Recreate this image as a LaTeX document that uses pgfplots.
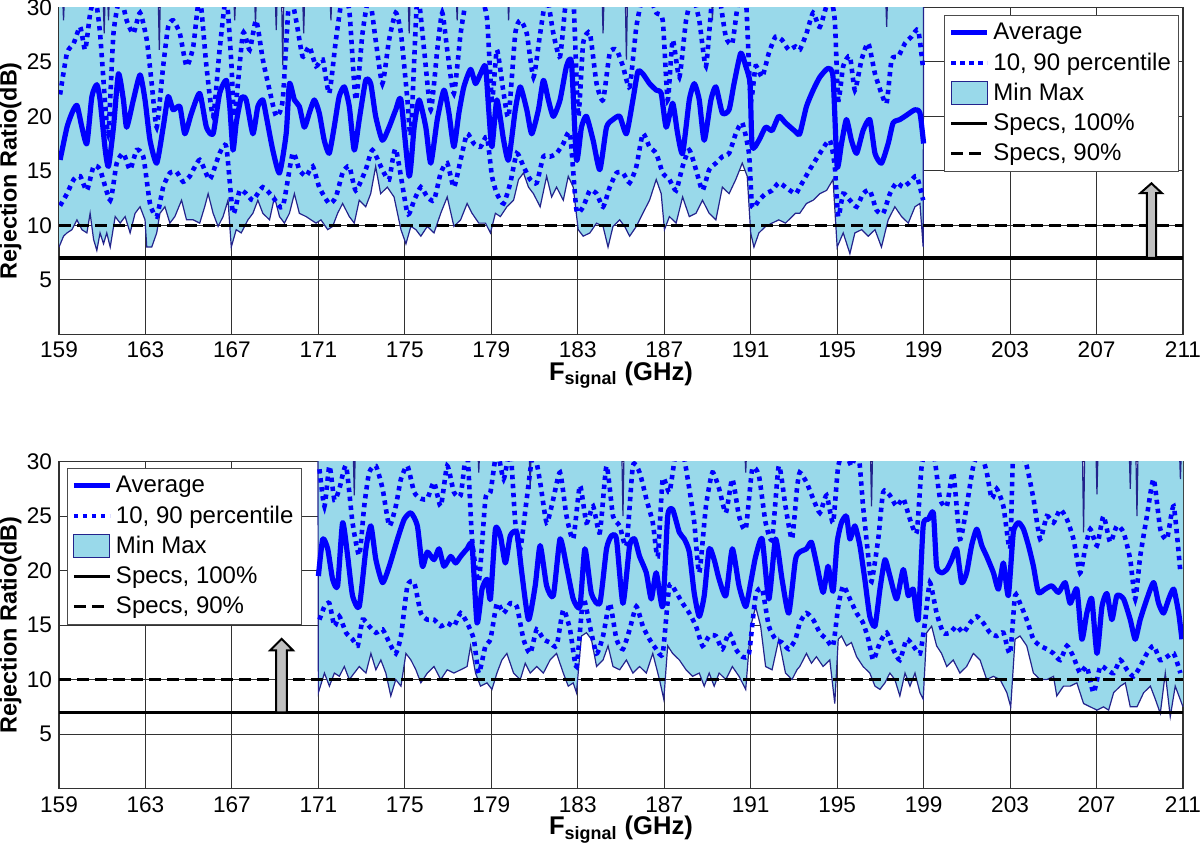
\documentclass[border=0pt]{standalone}
\usepackage{fontspec}
\setmainfont{Liberation Sans}
\usepackage{pgfplots}
\pgfplotsset{compat=1.18}
\usepackage{pgfplotstable}
\usepgfplotslibrary{fillbetween}
\definecolor{mmfill}{RGB}{153,217,234}
\definecolor{mmedge}{RGB}{35,35,140}
\definecolor{avgblue}{RGB}{0,0,255}
\definecolor{gridc}{RGB}{50,50,50}
\definecolor{arrowgray}{RGB}{192,192,192}

% ---------------- TOP PANEL DATA ----------------
\pgfplotstableread{
x y
159.05 16.0
159.37 19.0
159.60 20.3
159.83 21.0
160.06 19.0
160.29 17.5
160.52 21.8
160.75 22.9
160.90 21.5
161.14 16.9
161.29 15.4
161.52 19.0
161.75 23.9
161.98 21.5
162.13 19.0
162.44 21.5
162.75 23.8
162.98 21.5
163.21 17.8
163.52 15.7
163.82 19.0
164.05 21.8
164.28 20.6
164.59 20.9
164.82 18.4
165.13 20.3
165.51 22.1
165.82 19.0
166.13 18.4
166.43 22.1
166.74 23.3
166.90 20.9
167.05 16.9
167.20 19.4
167.43 21.7
167.66 21.5
167.97 18.4
168.20 20.9
168.43 21.5
168.59 20.0
168.89 16.9
169.20 14.8
169.51 18.4
169.66 23.0
169.89 21.5
170.12 20.9
170.35 19.0
170.58 20.3
170.81 21.5
171.04 20.3
171.27 17.8
171.50 16.6
171.73 19.0
171.96 21.8
172.20 22.7
172.43 20.9
172.66 16.9
172.89 19.7
173.19 23.3
173.42 23.0
173.65 20.0
173.96 17.8
174.27 19.0
174.58 20.6
174.82 21.5
175.20 14.5
175.43 19.0
175.66 21.5
175.97 19.0
176.20 15.7
176.50 19.7
176.81 22.4
177.04 20.3
177.27 17.2
177.50 20.3
177.73 22.7
178.04 24.3
178.27 23.0
178.50 23.9
178.73 24.6
178.88 20.6
179.03 17.2
179.26 21.5
179.57 17.8
179.80 16.0
180.11 20.6
180.34 22.7
180.64 20.6
180.87 18.4
181.18 20.6
181.41 23.3
181.64 21.5
181.87 20.0
182.18 21.5
182.48 24.6
182.71 24.9
182.94 16.0
183.17 19.0
183.40 20.0
183.71 17.8
184.02 15.1
184.33 19.0
184.63 19.7
184.94 20.0
185.25 18.4
185.55 21.5
185.78 24.1
186.01 23.9
186.32 23.0
186.63 22.4
186.86 22.1
187.09 19.0
187.39 21.2
187.62 18.4
187.85 16.6
188.16 21.5
188.39 23.0
188.62 21.5
188.85 17.8
189.16 21.5
189.39 22.7
189.69 20.3
190.00 20.6
190.23 23.0
190.54 25.8
190.77 24.6
190.97 23.0
191.07 17.2
191.38 17.8
191.69 19.0
191.99 18.7
192.30 20.0
192.61 19.4
193.07 18.6
193.27 18.4
193.58 20.9
193.89 22.4
194.20 23.6
194.58 24.4
194.81 23.6
195.00 15.4
195.20 17.5
195.43 19.7
195.66 17.8
195.90 16.6
196.20 18.7
196.51 19.7
196.75 16.6
197.05 15.7
197.36 17.5
197.59 19.4
197.90 19.7
198.21 20.1
198.60 20.6
198.83 20.3
199.00 17.5
}\topavg

\pgfplotstableread{
x y
159.05 22.0
159.37 25.8
159.68 26.7
159.98 28.2
160.21 26.1
160.44 29.4
160.67 31
160.90 27.6
161.14 21.0
161.29 18.5
161.52 27.6
161.83 31
162.13 28.8
162.44 27.6
162.75 29.5
163.06 27.0
163.29 23.0
163.52 19.0
163.82 24.6
164.05 28.2
164.28 28.8
164.59 27.6
164.90 24.6
165.21 26.4
165.51 31
165.82 24.6
166.13 20.0
166.43 26.1
166.74 31
166.97 25.0
167.12 20.0
167.51 27.6
167.82 26.1
168.12 28.8
168.43 25.2
168.74 22.4
169.05 20.0
169.35 21.5
169.66 31
169.97 28.8
170.27 25.5
170.58 26.4
170.89 24.6
171.20 25.2
171.50 22.1
171.81 27.0
172.12 31
172.43 29.7
172.73 21.5
173.04 27.6
173.35 31
173.65 27.0
173.96 23.0
174.27 27.0
174.58 29.5
174.82 27.6
175.12 21.5
175.28 18.4
175.58 31
175.89 26.1
176.20 20.6
176.50 26.1
176.73 29.5
176.96 26.1
177.27 22.1
177.58 27.6
177.88 31
178.19 31
178.50 31
178.80 29.0
179.03 21.5
179.26 26.1
179.57 22.1
179.80 20.0
180.11 27.6
180.34 28.8
180.64 27.6
180.95 23.6
181.26 27.6
181.56 31
181.87 27.6
182.18 25.5
182.48 31
182.79 31
183.02 20.0
183.25 26.7
183.56 27.6
183.87 23.0
184.17 21.5
184.48 25.8
184.79 26.1
185.09 24.6
185.40 22.7
185.71 28.2
186.01 31
186.32 31
186.63 29.5
186.93 28.8
187.16 21.5
187.39 27.0
187.70 23.6
188.01 28.8
188.31 31
188.62 28.8
188.93 24.6
189.23 31
189.54 31
189.85 27.3
190.15 26.7
190.46 31
190.77 31
191.00 21.5
191.23 24.6
191.53 23.6
191.84 25.8
192.15 27.3
192.45 27.0
192.76 26.1
193.07 26.4
193.27 26.1
193.58 27.6
193.89 29.5
194.20 28.2
194.66 31
194.89 28.8
195.05 21.5
195.28 24.6
195.59 25.5
195.82 22.4
196.13 25.2
196.44 26.7
196.75 23.9
197.05 22.1
197.29 21.2
197.52 25.2
197.83 25.5
198.14 26.7
198.44 27.3
198.75 27.9
198.98 24.3
}\topnin

\pgfplotstableread{
x y
159.05 11.8
159.37 12.9
159.68 14.2
159.98 14.5
160.29 13.2
160.60 15.4
160.90 15.1
161.37 12.3
161.67 15.7
161.98 16.6
162.29 15.1
162.59 16.9
162.90 16.3
163.21 12.0
163.52 10.8
163.82 13.5
164.13 14.8
164.44 14.9
164.74 14.0
165.05 14.5
165.51 16.0
165.97 14.2
166.43 16.6
166.74 17.2
167.05 11.1
167.36 13.2
167.66 12.9
167.97 12.3
168.43 13.5
168.89 12.6
169.35 11.7
169.81 16.6
170.12 15.1
170.43 14.5
170.74 15.4
171.04 13.5
171.50 12.0
171.81 12.6
172.12 14.8
172.43 15.4
172.73 13.2
173.19 15.1
173.50 16.9
173.96 15.1
174.27 14.2
174.58 17.0
175.12 11.1
175.43 12.3
175.74 13.5
176.04 12.6
176.35 12.3
176.66 14.8
176.96 15.7
177.27 13.5
177.58 16.0
177.88 18.4
178.19 17.5
178.50 17.2
178.80 18.1
179.03 14.5
179.26 12.9
179.57 12.0
179.88 13.9
180.18 16.6
180.49 15.4
180.80 14.2
181.10 13.9
181.41 16.3
181.72 16.3
182.02 16.6
182.33 17.5
182.64 18.4
182.94 11.4
183.25 11.7
183.56 13.2
183.87 12.9
184.17 11.7
184.48 13.5
184.79 14.8
185.09 14.8
185.40 13.9
185.71 15.4
186.01 18.4
186.32 17.2
186.63 16.6
186.93 14.8
187.24 14.2
187.55 13.2
187.85 15.4
188.16 16.9
188.47 15.1
188.77 13.2
189.08 15.1
189.39 15.7
189.69 16.3
190.00 16.6
190.31 18.4
190.61 19.4
190.92 16.6
191.07 11.7
191.38 12.3
191.69 12.9
191.99 13.2
192.30 13.9
192.61 13.5
193.07 12.9
193.27 13.5
193.73 15.1
194.20 16.6
194.66 17.8
194.89 15.4
195.05 10.8
195.28 12.9
195.59 12.3
195.90 11.7
196.20 12.9
196.51 13.2
196.82 11.4
197.13 11.1
197.44 12.9
197.75 13.9
198.06 13.5
198.37 14.0
198.68 14.5
198.98 12.3
}\topten

\pgfplotstableread{
x y
159.00 8.0
159.21 9.0
159.37 9.3
159.60 9.6
159.83 10.5
160.06 9.6
160.29 9.3
160.44 11.1
160.60 8.7
160.75 7.7
160.90 9.3
161.06 8.3
161.21 9.3
161.37 8.0
161.60 10.8
161.83 10.2
162.06 10.8
162.29 9.3
162.52 11.1
162.75 11.7
162.98 10.5
163.06 8.0
163.29 8.0
163.52 9.3
163.67 11.1
163.90 11.7
164.13 10.2
164.36 10.8
164.67 12.3
164.90 10.5
165.21 10.5
165.51 10.2
165.74 11.7
165.90 12.9
166.13 11.1
166.36 9.9
166.59 10.8
166.82 12.3
166.97 8.0
167.20 9.6
167.43 9.3
167.74 10.5
167.97 11.1
168.20 12.3
168.43 11.1
168.74 10.5
168.97 12.6
169.20 10.8
169.43 10.2
169.66 11.1
169.89 12.9
170.12 11.1
170.43 10.8
170.66 10.5
170.89 10.2
171.12 10.5
171.43 9.6
171.66 9.9
171.89 11.1
172.12 12.0
172.43 10.8
172.66 10.2
172.89 12.3
173.19 11.7
173.42 12.9
173.65 15.4
173.88 12.9
174.19 13.5
174.50 12.6
174.82 9.6
175.05 8.3
175.28 9.9
175.51 9.6
175.74 9.0
176.04 9.9
176.35 9.3
176.66 11.1
176.96 12.6
177.27 9.9
177.58 10.5
177.88 12.0
178.11 11.1
178.42 10.2
178.73 10.2
178.96 9.3
179.19 11.1
179.42 10.8
179.72 11.7
180.03 12.3
180.26 14.2
180.49 14.8
180.72 13.5
180.95 12.9
181.26 11.7
181.56 14.5
181.79 12.6
182.02 13.5
182.33 12.3
182.56 14.5
182.79 13.5
183.02 9.6
183.25 9.0
183.56 9.3
183.87 10.2
184.17 9.9
184.40 8.0
184.63 9.9
184.94 10.5
185.17 9.9
185.40 9.0
185.71 9.9
186.01 11.1
186.32 12.3
186.63 14.2
186.86 12.9
187.01 9.6
187.24 10.8
187.55 10.2
187.85 12.6
188.16 10.8
188.47 11.1
188.77 12.3
189.08 11.1
189.39 10.5
189.69 13.5
190.00 12.9
190.31 14.2
190.61 15.7
190.84 14.5
191.00 9.3
191.15 8.0
191.38 9.3
191.69 9.9
191.99 10.2
192.30 10.5
192.61 10.2
193.07 11.1
193.27 11.1
193.58 12.0
193.89 12.3
194.20 12.9
194.51 13.2
194.81 14.2
195.00 8.0
195.28 9.3
195.59 7.4
195.82 9.3
196.13 9.6
196.44 9.0
196.75 9.6
197.05 8.0
197.36 10.5
197.67 11.7
197.98 10.8
198.29 10.2
198.60 11.7
198.83 12.0
198.98 8.0
199.00 32
}\topmin

\pgfplotstableread{
x y
159.00 32
159.15 32
159.21 28.8
159.27 32
161.03 32
161.09 27.6
161.15 32
161.23 32
161.29 28.8
161.35 32
163.58 32
163.64 26.1
163.70 32
167.07 32
167.13 28.8
167.19 32
168.03 32
168.09 28.5
168.15 32
168.99 32
169.05 27.9
169.11 32
169.29 32
169.35 24.7
169.41 32
170.26 32
170.32 27.6
170.38 32
171.52 32
171.58 28.8
171.64 32
175.14 32
175.20 27.6
175.26 32
177.36 32
177.42 28.8
177.48 32
179.74 32
179.80 28.8
179.86 32
184.11 32
184.17 27.6
184.23 32
185.19 32
185.25 25.2
185.31 32
189.17 32
189.23 28.8
189.29 32
197.23 32
197.29 28.2
197.35 32
199.00 32
}\topmax

% ---------------- BOTTOM PANEL DATA ----------------
\pgfplotstableread{
x y
171.00 19.5
171.20 22.9
171.43 22.0
171.66 19.2
171.89 18.6
172.12 24.4
172.35 21.4
172.58 17.7
172.89 16.7
173.20 22.0
173.43 24.1
173.66 21.0
173.97 18.9
174.28 20.4
174.66 22.9
174.97 24.7
175.28 25.3
175.58 24.1
175.81 20.4
176.04 21.7
176.35 21.0
176.58 22.0
176.81 20.4
177.12 21.3
177.35 20.7
177.58 21.3
177.88 22.0
178.11 22.3
178.34 15.2
178.57 18.3
178.80 19.2
178.96 17.4
179.19 23.8
179.42 23.2
179.65 20.7
179.88 23.2
180.18 23.5
180.41 19.8
180.72 15.5
181.03 18.6
181.26 22.3
181.56 18.6
181.87 17.7
182.18 22.9
182.48 20.4
182.79 17.4
183.10 16.7
183.33 22.0
183.63 17.9
184.02 17.0
184.33 22.0
184.56 23.2
184.79 22.9
185.09 17.0
185.40 22.3
185.63 22.9
185.86 21.3
186.17 19.8
186.40 17.4
186.63 19.8
186.93 16.7
187.16 25.0
187.39 25.6
187.70 23.5
187.93 22.9
188.16 21.7
188.39 17.9
188.62 15.8
188.85 17.7
189.08 22.0
189.31 21.0
189.54 19.2
189.85 17.7
190.15 22.0
190.46 18.6
190.77 16.7
191.00 18.9
191.23 21.3
191.53 22.9
191.84 17.4
192.15 22.9
192.45 19.2
192.76 16.1
193.07 21.0
193.27 21.7
193.58 22.0
193.81 22.6
194.04 20.7
194.35 18.0
194.58 20.4
194.81 18.1
195.00 22.6
195.20 24.4
195.43 25.0
195.59 22.9
195.82 24.1
196.05 22.3
196.28 19.2
196.51 15.8
196.75 14.9
196.98 18.3
197.21 21.0
197.44 19.5
197.75 17.4
198.06 20.1
198.29 17.7
198.52 18.3
198.75 15.5
198.98 24.1
199.22 24.7
199.45 25.3
199.60 20.4
199.83 19.8
200.07 20.1
200.30 21.0
200.53 22.0
200.76 18.9
200.99 19.8
201.22 22.3
201.46 23.8
201.69 22.3
201.92 21.3
202.23 19.8
202.46 18.3
202.69 20.7
202.92 17.7
203.15 23.5
203.39 24.4
203.62 23.8
203.85 22.3
204.08 20.4
204.31 18.0
204.62 18.3
204.93 18.6
205.24 18.0
205.55 18.9
205.78 17.0
206.09 18.3
206.32 13.7
206.55 16.1
206.78 17.4
207.02 12.4
207.25 16.7
207.48 17.9
207.71 15.5
207.94 17.7
208.25 17.4
208.56 15.5
208.79 13.7
209.02 15.5
209.33 17.4
209.64 18.9
209.87 17.0
210.10 16.1
210.34 17.4
210.57 18.3
210.80 16.1
210.95 13.7
}\botavg

\pgfplotstableread{
x y
171.05 29.3
171.28 25.9
171.51 29.6
171.74 26.5
171.97 27.5
172.28 29.6
172.58 24.4
172.89 21.4
173.12 25.9
173.35 29.0
173.66 29.6
173.97 27.5
174.28 24.1
174.58 25.9
174.82 28.4
175.12 29.6
175.43 27.2
175.74 26.6
176.04 26.6
176.35 28.1
176.66 25.9
176.96 29.6
177.27 27.2
177.58 26.9
177.88 31
178.11 22.9
178.42 19.0
178.73 26.6
178.96 27.2
179.26 31
179.57 28.4
179.88 31
180.11 24.4
180.34 22.0
180.64 26.6
180.95 31
181.26 28.1
181.56 24.4
181.87 26.6
182.18 29.0
182.48 25.0
182.79 22.9
183.10 27.8
183.40 24.4
183.71 25.9
184.02 23.5
184.33 29.6
184.63 25.0
184.94 24.1
185.25 22.3
185.55 29.6
185.86 29.0
186.17 26.6
186.47 24.4
186.70 21.3
186.93 28.4
187.24 27.2
187.55 31
187.85 31
188.16 27.5
188.39 24.4
188.62 19.8
188.93 25.9
189.23 29.0
189.54 27.5
189.85 25.3
190.15 28.4
190.46 25.0
190.77 23.8
191.07 29.3
191.38 28.7
191.69 24.4
191.99 22.9
192.30 29.6
192.61 25.9
192.91 22.9
193.14 27.5
193.27 29.0
193.58 28.1
193.89 26.6
194.20 25.3
194.51 26.9
194.81 24.4
195.05 29.6
195.36 31
195.66 29.6
195.97 31
196.20 25.9
196.44 21.3
196.59 19.0
196.90 22.9
197.13 27.2
197.44 26.9
197.75 25.9
198.06 26.6
198.37 24.7
198.68 23.5
198.91 29.6
199.14 31
199.45 31
199.76 26.6
200.07 25.9
200.37 29.0
200.68 22.9
200.99 25.9
201.30 29.6
201.61 31
201.92 29.0
202.15 26.6
202.38 27.5
202.69 25.9
203.00 22.0
203.15 31
203.46 31
203.77 29.6
204.08 26.6
204.39 22.9
204.70 25.0
205.01 24.4
205.32 25.6
205.63 24.7
205.93 22.9
206.24 19.8
206.47 22.0
206.71 23.8
207.02 22.3
207.32 25.0
207.63 22.6
207.94 24.1
208.25 23.5
208.56 21.0
208.79 17.4
209.02 21.3
209.33 25.0
209.64 28.4
209.95 23.8
210.26 22.9
210.57 25.9
210.88 19.8
}\botnin

\pgfplotstableread{
x y
171.05 15.5
171.28 16.7
171.51 17.0
171.74 14.9
171.97 15.8
172.28 14.3
172.58 13.7
172.82 13.1
173.05 15.5
173.35 14.9
173.66 14.3
173.97 14.6
174.28 13.4
174.58 12.4
174.82 14.0
175.12 18.6
175.43 18.9
175.74 16.1
176.04 15.5
176.35 15.5
176.66 14.9
176.96 15.2
177.27 14.9
177.58 16.1
177.88 15.2
178.19 13.7
178.42 10.6
178.73 13.1
178.96 13.7
179.26 17.0
179.57 16.1
179.88 17.0
180.18 16.7
180.49 13.7
180.80 12.4
181.10 14.6
181.41 13.7
181.72 13.4
182.02 13.1
182.33 16.4
182.64 14.6
182.94 11.2
183.25 17.4
183.56 14.9
183.87 12.4
184.17 14.0
184.48 17.0
184.79 13.7
185.09 12.8
185.40 14.6
185.71 16.7
186.01 14.9
186.32 13.7
186.63 12.8
186.93 12.4
187.24 18.6
187.55 18.0
187.85 17.0
188.16 16.1
188.47 14.9
188.77 13.1
189.08 14.0
189.39 14.0
189.69 12.8
190.00 14.3
190.31 12.8
190.61 12.1
190.92 12.4
191.23 17.7
191.53 18.3
191.84 14.9
192.15 13.7
192.45 13.4
192.76 12.8
193.07 13.7
193.27 15.2
193.58 16.1
193.89 15.5
194.20 14.3
194.51 13.7
194.81 13.1
195.05 16.7
195.28 18.6
195.59 17.4
195.90 16.1
196.20 15.2
196.44 13.7
196.67 11.8
196.98 13.4
197.29 14.3
197.59 12.8
197.90 11.8
198.21 13.7
198.52 13.1
198.83 12.4
199.06 15.2
199.29 18.9
199.60 16.1
199.91 14.3
200.22 14.3
200.53 14.9
200.84 14.3
201.15 15.2
201.46 15.8
201.76 15.2
202.07 14.3
202.38 14.0
202.69 14.3
203.00 12.4
203.23 17.7
203.46 17.0
203.77 15.5
204.08 13.7
204.39 13.1
204.70 12.8
205.01 12.4
205.32 11.8
205.63 13.1
205.93 12.1
206.24 10.6
206.55 11.2
206.86 8.8
207.17 11.2
207.48 10.9
207.79 10.6
208.10 11.8
208.41 10.9
208.71 10.3
209.02 11.2
209.33 12.4
209.64 13.1
209.95 11.8
210.26 12.1
210.57 12.4
210.88 10.6
}\botten

\pgfplotstableread{
x y
170.98 32
171.00 8.8
171.28 10.6
171.51 9.4
171.74 10.6
171.97 10.3
172.20 11.2
172.43 10.0
172.66 10.6
172.89 11.2
173.20 10.6
173.43 12.4
173.66 10.9
173.89 11.8
174.12 10.6
174.35 8.5
174.58 10.0
174.82 9.4
175.05 12.4
175.28 11.8
175.51 10.9
175.74 9.7
176.04 10.6
176.35 11.2
176.66 10.0
176.96 10.9
177.27 10.6
177.58 10.9
177.88 11.2
178.04 13.1
178.27 10.6
178.50 9.4
178.80 9.7
179.03 9.1
179.26 10.6
179.49 11.8
179.72 12.4
180.03 10.6
180.34 10.0
180.57 11.5
180.80 10.6
181.10 11.2
181.41 10.6
181.72 11.8
182.02 12.4
182.33 10.6
182.56 9.4
182.79 9.7
182.94 8.8
183.17 14.0
183.40 14.3
183.63 13.7
183.87 11.2
184.17 11.8
184.40 13.1
184.63 11.2
184.94 10.9
185.25 11.8
185.55 10.6
185.86 11.2
186.17 10.6
186.47 12.4
186.78 10.0
186.98 8.2
187.16 13.1
187.39 12.4
187.70 11.8
188.01 10.9
188.31 10.3
188.62 10.6
188.85 9.4
189.08 10.6
189.31 9.4
189.54 10.6
189.85 10.0
190.15 11.2
190.46 10.3
190.77 9.1
191.00 14.9
191.23 16.7
191.46 14.9
191.69 11.2
191.99 10.9
192.30 13.7
192.61 10.6
192.91 10.0
193.14 10.9
193.27 11.2
193.58 12.4
193.81 11.5
194.04 12.1
194.35 11.2
194.66 11.8
194.89 7.8
195.05 13.7
195.20 14.0
195.43 13.1
195.66 13.4
195.90 12.1
196.20 11.2
196.51 10.6
196.75 9.4
196.98 9.1
197.21 9.7
197.44 10.6
197.67 10.0
197.90 8.5
198.14 10.6
198.37 9.4
198.60 10.6
198.83 8.8
198.98 8.2
199.14 14.3
199.37 14.9
199.60 13.1
199.83 12.4
200.07 11.2
200.37 11.8
200.68 10.6
200.99 11.2
201.30 12.4
201.61 11.8
201.92 10.0
202.23 10.3
202.54 10.0
202.85 8.8
203.03 7.5
203.23 13.7
203.46 14.0
203.77 13.1
204.08 10.6
204.39 10.0
204.70 10.0
205.01 10.3
205.16 8.5
205.47 9.4
205.78 9.4
206.09 9.7
206.40 7.8
206.71 7.5
207.02 7.2
207.32 7.5
207.56 7.2
207.79 8.8
208.10 9.4
208.33 9.7
208.56 7.5
208.87 7.5
209.18 8.8
209.49 9.4
209.72 8.2
209.95 6.9
210.18 10.6
210.41 6.6
210.64 9.4
211.00 7.5
}\botmin

\pgfplotstableread{
x y
170.98 32
172.60 32
172.66 26.9
172.72 32
178.36 32
178.42 29.0
178.48 32
180.74 32
180.80 27.5
180.86 32
185.03 32
185.09 25.0
185.15 32
190.71 32
190.77 29.0
190.83 32
196.53 32
196.59 25.9
196.65 32
206.34 32
206.40 23.5
206.46 32
206.96 32
207.02 27.0
207.08 32
208.50 32
208.56 27.5
208.62 32
208.81 32
208.87 25.0
208.93 32
210.82 32
210.88 28.4
210.94 32
211.00 32
}\botmax

\pgfplotsset{
  panel/.style={
    width=562pt, height=163.5pt, scale only axis,
    xmin=159, xmax=211, ymin=0, ymax=30,
    xtick={159,163,...,211}, ytick={5,10,...,30},
    grid=major, major grid style={gridc, line width=0.5pt},
    axis line style={gridc, line width=0.6pt},
    tick style={draw=none},
    ticklabel style={font=\fontsize{11.3}{13}\selectfont},
    xticklabel style={text height=8.2pt, text depth=0pt},
    /pgf/number format/assume math mode=true,
    xlabel={\bfseries F\textsubscript{signal} (GHz)},
    xlabel style={font=\fontsize{12.8}{15}\selectfont, inner sep=0pt, at={(axis description cs:0.5,-0.125)}, anchor=center},
    ylabel={\bfseries Rejection Ratio(dB)},
    ylabel style={font=\fontsize{11.7}{14}\selectfont, inner sep=0pt, at={(axis description cs:-0.0430,0.5)}, anchor=center},
    legend cell align=left,
    legend style={font=\fontsize{12}{14}\selectfont, draw=black!70, line width=0.5pt, fill=white,
      inner sep=2pt, row sep=1.5pt, nodes={inner sep=1.8pt}},
  },
  avgline/.style={avgblue, line width=2.6pt, line join=round, smooth, tension=0.35},
  pctline/.style={avgblue, line width=2.3pt, dash pattern=on 2.2pt off 2.3pt, smooth, tension=0.35},
  edgeline/.style={mmedge, line width=0.6pt},
  spec100/.style={black, line width=1.6pt},
  spec90/.style={black, line width=1.6pt, dash pattern=on 6pt off 3pt},
  shortline/.style={legend image code/.code={\draw[##1, sharp plot] (0pt,0pt) -- (18pt,0pt);}},
  boxleg/.style={legend image code/.code={\draw[fill=mmfill, draw=mmedge, line width=0.6pt] (0pt,-5.5pt) rectangle (18pt,6pt);}},
}

\begin{document}
\begin{tikzpicture}

% ---------------- TOP ----------------
\begin{axis}[panel, at={(0pt,227.15pt)}, anchor=south west,
  legend style={at={(1,1)}, anchor=north east, xshift=-2pt, yshift=-3.8pt}]
\addlegendimage{avgline, shortline}
\addlegendentry{Average}
\addlegendimage{pctline, shortline}
\addlegendentry{10, 90 percentile}
\addlegendimage{boxleg}
\addlegendentry{Min Max}
\addlegendimage{spec100, shortline}
\addlegendentry{Specs, 100\%}
\addlegendimage{spec90, shortline}
\addlegendentry{Specs, 90\%}

\addplot[draw=none, name path=tmx, forget plot] table {\topmax};
\addplot[draw=none, name path=tmn, forget plot] table {\topmin};
\addplot[fill=mmfill, draw=none, forget plot] fill between[of=tmx and tmn];
\addplot[edgeline, forget plot] table {\topmin};
\addplot[edgeline, forget plot] table {\topmax};
\addplot[pctline, forget plot] table {\topten};
\addplot[pctline, forget plot] table {\topnin};
\addplot[avgline, forget plot] table {\topavg};
\addplot[spec100, forget plot] coordinates {(159,7) (211,7)};
\addplot[spec90, forget plot] coordinates {(159,10) (211,10)};
\addplot[fill=arrowgray, draw=black, line width=1pt, forget plot] coordinates {
(209.33,7) (209.33,12.94) (209.02,12.94) (209.54,13.85) (210.03,12.94) (209.76,12.94) (209.76,7)} -- cycle;
\end{axis}

% ---------------- BOTTOM ----------------
\begin{axis}[panel, at={(0pt,0pt)}, anchor=south west,
  legend style={at={(0,1)}, anchor=north west, xshift=3.85pt, yshift=-3.15pt}]
\addlegendimage{avgline, shortline}
\addlegendentry{Average}
\addlegendimage{pctline, shortline}
\addlegendentry{10, 90 percentile}
\addlegendimage{boxleg}
\addlegendentry{Min Max}
\addlegendimage{spec100, shortline}
\addlegendentry{Specs, 100\%}
\addlegendimage{spec90, shortline}
\addlegendentry{Specs, 90\%}

\addplot[draw=none, name path=bmx, forget plot] table {\botmax};
\addplot[draw=none, name path=bmn, forget plot] table {\botmin};
\addplot[fill=mmfill, draw=none, forget plot] fill between[of=bmx and bmn];
\addplot[edgeline, forget plot] table {\botmin};
\addplot[edgeline, forget plot] table {\botmax};
\addplot[pctline, forget plot] table {\botten};
\addplot[pctline, forget plot] table {\botnin};
\addplot[avgline, forget plot] table {\botavg};
\addplot[spec100, forget plot] coordinates {(159,7) (211,7)};
\addplot[spec90, forget plot] coordinates {(159,10) (211,10)};
\addplot[fill=arrowgray, draw=black, line width=1pt, forget plot] coordinates {
(169.05,7) (169.05,12.69) (168.77,12.69) (169.30,13.74) (169.82,12.69) (169.54,12.69) (169.54,7)} -- cycle;
\end{axis}

\pgfresetboundingbox
\path (-29.5pt,-34.2pt) rectangle (570.5pt,394.3pt);
\end{tikzpicture}
\end{document}
